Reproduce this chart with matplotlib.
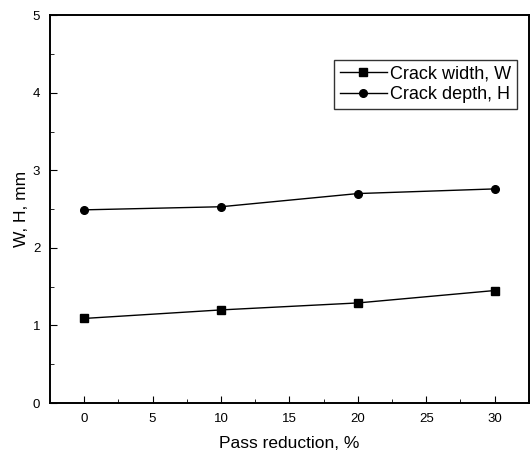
import matplotlib.pyplot as plt
from matplotlib.ticker import MultipleLocator

plt.rcParams['font.family'] = ['Liberation Sans', 'DejaVu Sans']

# pass reduction (%) and crack size (mm)
pass_reduction = [0, 10, 20, 30]
crack_width = [1.09, 1.2, 1.29, 1.45]
crack_depth = [2.49, 2.53, 2.7, 2.76]

fig = plt.figure(figsize=(5.31, 4.59), dpi=100)
ax = fig.add_axes([0.094, 0.122, 0.902, 0.845])

ax.plot(pass_reduction, crack_width, 'k-s', lw=1, ms=6, label='Crack width, W')
ax.plot(pass_reduction, crack_depth, 'k-o', lw=1, ms=5.5, label='Crack depth, H')

ax.set_xlim(-2.5, 32.5)
ax.set_ylim(0, 5)
ax.set_xticks([0, 5, 10, 15, 20, 25, 30])
ax.set_yticks([0, 1, 2, 3, 4, 5])
ax.xaxis.set_minor_locator(MultipleLocator(2.5))
ax.yaxis.set_minor_locator(MultipleLocator(0.5))
ax.tick_params(which='both', direction='in', labelsize=9.5)
ax.tick_params(which='major', length=5, pad=7)
ax.tick_params(which='minor', length=3)
for s in ax.spines.values():
    s.set_linewidth(1.4)

ax.set_xlabel('Pass reduction, %', fontsize=12.5, labelpad=8)
ax.set_ylabel('W, H, mm', fontsize=12.5, labelpad=3)

leg = ax.legend(loc='upper right', bbox_to_anchor=(0.975, 0.884), fontsize=13,
                frameon=True, fancybox=False, edgecolor='black',
                handlelength=2.6, handletextpad=0.2, borderpad=0.3,
                labelspacing=0.2, borderaxespad=0)
leg.get_frame().set_linewidth(1)

fig.savefig('out.png', dpi=100)
